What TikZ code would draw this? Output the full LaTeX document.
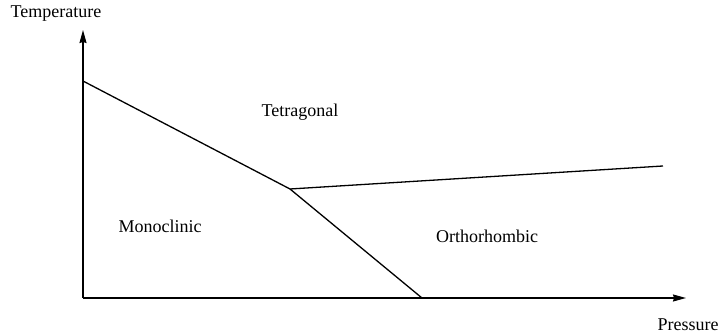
\documentclass[tikz,border=0pt]{standalone}
\usepackage{fontspec}
\setmainfont{Liberation Serif}
\usetikzlibrary{arrows.meta}
\begin{document}
\begin{tikzpicture}[x=1pt,y=-1pt,
  lbl/.style={font=\fontsize{18}{20}\selectfont, inner sep=0pt},
  axis/.style={line width=1.2pt, -{Stealth[length=13pt,width=7pt,inset=1pt]}},
  bound/.style={line width=1.3pt, line join=round}]
\useasboundingbox (0,0) rectangle (721,336);
\coordinate (o) at (83,298);
\coordinate (ytip) at (83,30);
\coordinate (xtip) at (686,298);
\coordinate (a) at (83,81);
\coordinate (j) at (290,189);
\coordinate (r) at (663,166);
\coordinate (b) at (422,298);
\draw[axis] (o) -- (ytip);
\draw[axis] (o) -- (xtip);
\draw[bound] (a) -- (j) -- (r);
\draw[bound] (j) -- (b);
\node[lbl] (temp) at (56,14) {Temperature};
\node[lbl] (pres) at (688,325) {Pressure};
\node[lbl] (tet) at (300,112) {Tetragonal};
\node[lbl] (mono) at (160,226) {Monoclinic};
\node[lbl] (ortho) at (487,236) {Orthorhombic};
\end{tikzpicture}
\end{document}
